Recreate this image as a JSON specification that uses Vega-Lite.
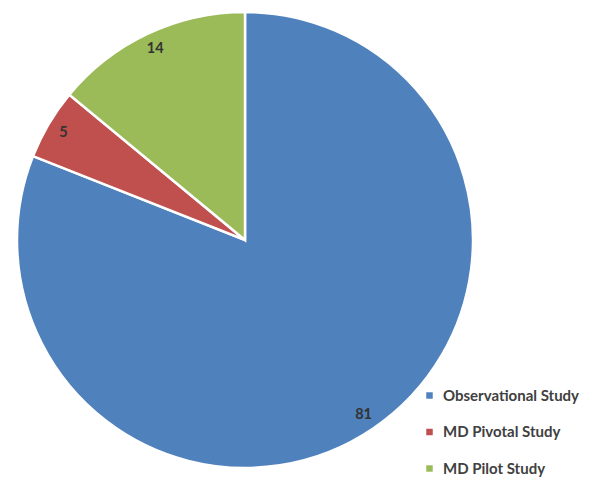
{
  "$schema": "https://vega.github.io/schema/vega-lite/v6.json",
  "width": 490,
  "height": 480,
  "autosize": {"type": "none"},
  "padding": {"left": 0, "top": 0, "right": 103, "bottom": 0},
  "background": "white",
  "view": {"stroke": null},
  "data": {
    "values": [
      {"Study": "Observational Study", "Count": 81},
      {"Study": "MD Pivotal Study", "Count": 5},
      {"Study": "MD Pilot Study", "Count": 14}
    ]
  },
  "encoding": {
    "theta": {"field": "Count", "type": "quantitative", "stack": true},
    "order": {"field": "Study", "sort": "descending"}
  },
  "layer": [
    {
      "mark": {"type": "arc", "outerRadius": 228, "stroke": "white", "strokeWidth": 2.5},
      "encoding": {
        "color": {
          "field": "Study",
          "type": "nominal",
          "sort": ["Observational Study", "MD Pivotal Study", "MD Pilot Study"],
          "scale": {
            "domain": ["Observational Study", "MD Pivotal Study", "MD Pilot Study"],
            "range": ["#4F81BD", "#C0504D", "#9BBB59"]
          },
          "legend": {
            "title": null,
            "orient": "none",
            "legendX": 422,
            "legendY": 388,
            "symbolType": "square",
            "symbolSize": 42,
            "symbolStrokeWidth": 0,
            "labelFont": "Lato",
            "labelFontWeight": "bold",
            "labelFontSize": 15,
            "labelColor": "#404040",
            "labelOffset": 6,
            "rowPadding": 20.5,
            "padding": 0
          }
        }
      }
    },
    {
      "mark": {"type": "text", "radius": 211, "font": "Lato", "fontWeight": "bold", "fontSize": 14.5, "color": "#333333"},
      "encoding": {
        "text": {"field": "Count", "type": "quantitative"}
      }
    }
  ]
}
